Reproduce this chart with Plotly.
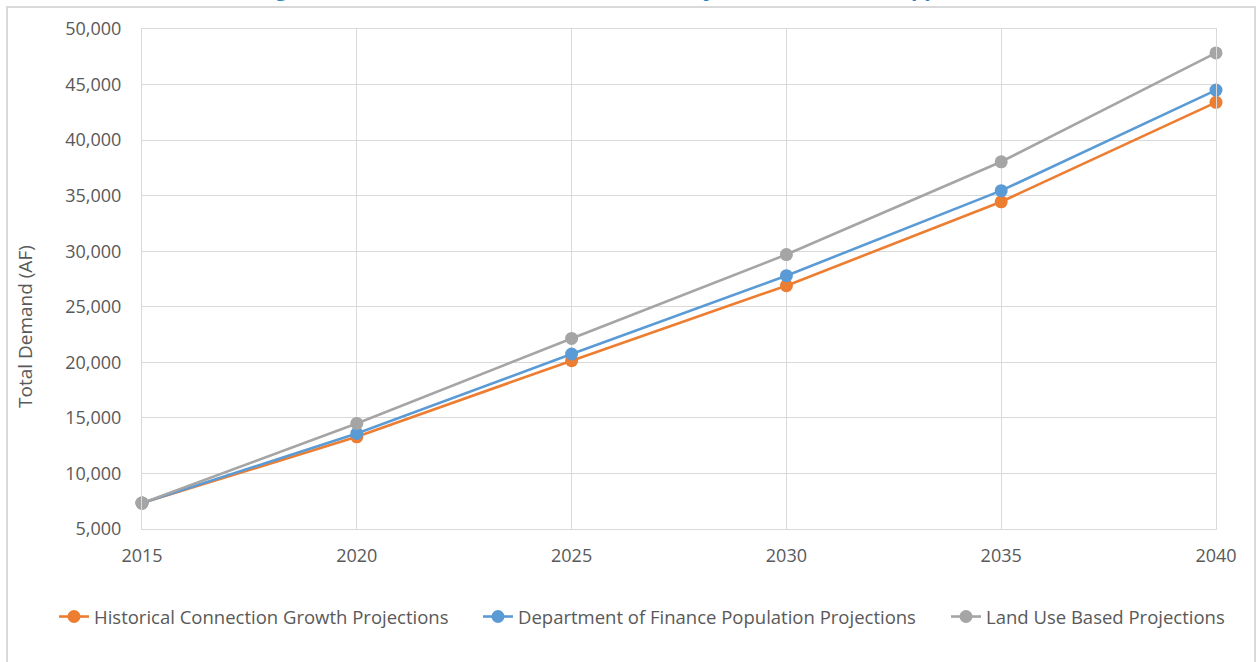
import plotly.graph_objects as go

years = [2015, 2020, 2025, 2030, 2035, 2040]
historical = [7330, 13300, 20150, 26900, 34450, 43400]
dof = [7330, 13600, 20750, 27800, 35450, 44500]
land_use = [7330, 14500, 22150, 29700, 38050, 47850]

series_names = [
    "Historical Connection Growth Projections",
    "Department of Finance Population Projections",
    "Land Use Based Projections",
]
series_colors = ["#ED7D31", "#5B9BD5", "#A5A5A5"]
y_ticks = list(range(5000, 50001, 5000))
title_text = "Figure 3-5: Total Annual Water Demand Projections (All Three Approaches)"

W, H = 1259, 662
L, R, T, B = 142, 1216, 29, 529
pw, ph = R - L, B - T

def px_x(p):
    return (p - L) / pw

def px_y(p):
    return (B - p) / ph

legend_ids = ["legend", "legend2", "legend3"]
legend_text_starts = [96, 520, 988]

fig = go.Figure()
for name, vals, col, lid in zip(series_names, [historical, dof, land_use], series_colors, legend_ids):
    fig.add_trace(go.Scatter(
        x=years, y=vals, name=name, mode="lines+markers",
        line=dict(color=col, width=2.6),
        marker=dict(color=col, size=13),
        cliponaxis=False, legend=lid,
    ))

font_family = "Open Sans, DejaVu Sans, sans-serif"
txt = "#595959"

legend_layout = {}
for lid, ts in zip(legend_ids, legend_text_starts):
    legend_layout[lid] = dict(
        orientation="h", x=px_x(ts - 42), xanchor="left",
        y=px_y(617), yanchor="middle",
        font=dict(size=18.5, color=txt, family=font_family),
        bgcolor="rgba(0,0,0,0)",
    )

fig.update_layout(
    width=W, height=H,
    margin=dict(l=L, r=W - R, t=T, b=H - B),
    paper_bgcolor="white", plot_bgcolor="white",
    font=dict(family=font_family, color=txt, size=18),
    showlegend=True,
    **legend_layout,
    xaxis=dict(
        range=[2015, 2040], tickvals=years, ticktext=[str(y) for y in years],
        showgrid=True, gridcolor="#D9D9D9", gridwidth=1,
        showline=True, linecolor="#D9D9D9", linewidth=1, mirror=True,
        zeroline=False, ticks="", tickfont=dict(size=18, color=txt),
        ticklabelstandoff=10,
    ),
    yaxis=dict(
        range=[5000, 50000], tickvals=y_ticks, tickformat=",d",
        showgrid=True, gridcolor="#D9D9D9", gridwidth=1,
        showline=True, linecolor="#D9D9D9", linewidth=1, mirror=True,
        zeroline=False, ticks="", tickfont=dict(size=18, color=txt),
        ticklabelstandoff=16,
    ),
    annotations=[
        dict(
            text="Total Demand (AF)", textangle=-90,
            xref="paper", yref="paper", x=px_x(25), y=px_y(327),
            xanchor="center", yanchor="middle", showarrow=False,
            font=dict(size=19, color=txt, family=font_family),
        ),
        dict(
            text="<b>" + title_text + "</b>",
            xref="paper", yref="paper", x=px_x(642), y=px_y(4),
            xanchor="center", yanchor="bottom", showarrow=False,
            font=dict(size=20.8, color="#2E86C1", family=font_family),
        ),
    ],
    shapes=[
        dict(type="rect", xref="paper", yref="paper",
             x0=px_x(7), x1=px_x(1255), y0=px_y(700), y1=px_y(7),
             line=dict(color="#D9D9D9", width=2), fillcolor="rgba(0,0,0,0)",
             layer="below"),
    ],
)

fig.write_html("out.html")
